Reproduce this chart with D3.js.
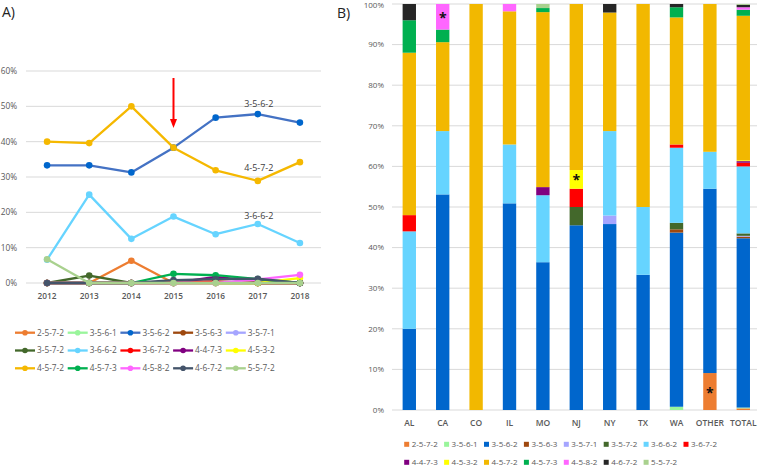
<!DOCTYPE html>
<html><head><meta charset="utf-8">
<script src="https://cdn.jsdelivr.net/npm/d3@7"></script>
<style>
body{margin:0;background:#fff;}
svg{display:block;font-family:"Open Sans","Liberation Sans",sans-serif;}
</style></head>
<body><svg id="c" width="760" height="466"></svg>
<script>
// ---------- DATA ----------
const seriesNames = ["2-5-7-2","3-5-6-1","3-5-6-2","3-5-6-3","3-5-7-1","3-5-7-2","3-6-6-2","3-6-7-2","4-4-7-3","4-5-3-2","4-5-7-2","4-5-7-3","4-5-8-2","4-6-7-2","5-5-7-2"];
const years = ["2012","2013","2014","2015","2016","2017","2018"];
// Panel A: share per year (%)
const s2572 = [0,0,6.3,0,0,0,0];
const s3561 = [0,0,0,0,0,0,0];
const s3562 = [33.3,33.3,31.3,38.3,46.8,47.8,45.4];
const s3563 = [0,0,0,0,0.4,0,0];
const s3571 = [0,0,0,0,0,0,0];
const s3572 = [0,2.1,0,0,0,0,0];
const s3662 = [6.6,25,12.5,18.8,13.8,16.7,11.3];
const s3672 = [0,0,0,0.4,0.4,0,0];
const s4473 = [0,0,0,0,1.7,0.5,0];
const s4532 = [0,0,0,0,0,0,1.4];
const s4572 = [40,39.6,50,38.3,31.9,28.9,34.2];
const s4573 = [0,0,0,2.6,2.2,1.1,0];
const s4582 = [0,0,0,0,0,1.0,2.3];
const s4672 = [0,0,0,0.8,1.1,1.2,0];
const s5572 = [6.7,0,0,0,0,0,0];
const lineValues = [s2572,s3561,s3562,s3563,s3571,s3572,s3662,s3672,s4473,s4532,s4572,s4573,s4582,s4672,s5572];
const yTicksA = [0,10,20,30,40,50,60];

// Panel B: share per state (%), one array per state in series order
const states = ["AL","CA","CO","IL","MO","NJ","NY","TX","WA","OTHER","TOTAL"];
const bAL    = [0,0,20,0,0,0,24,4,0,0,40,8,0,4,0];
const bCA    = [0,0,53.1,0,0,0,15.6,0,0,0,21.9,3.1,6.3,0,0];
const bCO    = [0,0,0,0,0,0,0,0,0,0,100,0,0,0,0];
const bIL    = [0,0,50.9,0,0,0,14.5,0,0,0,32.8,0,1.8,0,0];
const bMO    = [0,0,36.4,0,0,0,16.5,0,2,0,43.1,1,0,0,1];
const bNJ    = [0,0,45.5,0,0,4.5,0,4.5,0,4.6,40.9,0,0,0,0];
const bNY    = [0,0,45.8,0,2.1,0,20.8,0,0,0,29.2,0,0,2.1,0];
const bTX    = [0,0,33.3,0,0,0,16.7,0,0,0,50,0,0,0,0];
const bWA    = [0,0.8,42.9,0.8,0,1.6,18.5,0.8,0,0,31.3,2.5,0,0.8,0];
const bOTHER = [9.1,0,45.4,0,0,0,9.1,0,0,0,36.4,0,0,0,0];
const bTOTAL = [0.4,0.2,41.7,0.4,0.2,0.6,16.5,0.9,0.4,0.2,35.6,1.5,0.6,0.6,0.2];
const barValues = [bAL,bCA,bCO,bIL,bMO,bNJ,bNY,bTX,bWA,bOTHER,bTOTAL];
const yTicksB = [0,10,20,30,40,50,60,70,80,90,100];
const asterisks = [{state:"CA",series:"4-5-8-2"},{state:"NJ",series:"4-5-3-2"},{state:"OTHER",series:"2-5-7-2"}];
const lineLabels = ["3-5-6-2","4-5-7-2","3-6-6-2"];

// ---------- STYLE ----------
const barColor = {"2-5-7-2":"#ED7D31","3-5-6-1":"#99F59B","3-5-6-2":"#0066CC","3-5-6-3":"#9E480E","3-5-7-1":"#A5A5FF","3-5-7-2":"#43682B","3-6-6-2":"#66D4FF","3-6-7-2":"#FF0000","4-4-7-3":"#800080","4-5-3-2":"#FFFF00","4-5-7-2":"#F2B800","4-5-7-3":"#00B050","4-5-8-2":"#FF66FF","4-6-7-2":"#262626","5-5-7-2":"#A9D18E"};
const lineColor = Object.assign({}, barColor, {"3-5-6-2":"#4472C4","4-6-7-2":"#44546A","4-5-7-2":"#F5B800"});
const markColor = Object.assign({}, lineColor, {"3-5-6-2":"#0066CC"});
const labelOffset = {"3-5-6-2":-7,"4-5-7-2":-10,"3-6-6-2":-5};
const textCol = "#595959", gridCol = "#D9D9D9";

const svg = d3.select("#c");

// ---------- PANEL A ----------
const xA = d3.scalePoint().domain(years).range([26,321]).padding(0.5);
const yA = d3.scaleLinear().domain([0,60]).range([283,71]);
const gA = svg.append("g");
gA.selectAll("line.grid").data(yTicksA).join("line")
  .attr("x1",26).attr("x2",321).attr("y1",d=>yA(d)).attr("y2",d=>yA(d))
  .attr("stroke",gridCol).attr("stroke-width",1);
gA.selectAll("text.yt").data(yTicksA).join("text")
  .attr("x",17).attr("y",d=>yA(d)).attr("dy","0.35em").attr("text-anchor","end")
  .attr("font-size",8.3).attr("fill",textCol).text(d=>d+"%");
gA.selectAll("text.xt").data(years).join("text")
  .attr("x",d=>xA(d)).attr("y",299).attr("text-anchor","middle")
  .attr("font-size",8.3).attr("font-weight",600).attr("fill",textCol).text(d=>d);
const line = d3.line().x((d,i)=>xA(years[i])).y(d=>yA(d));
seriesNames.forEach((s,k)=>{
  const g = gA.append("g");
  g.append("path").datum(lineValues[k]).attr("d",line).attr("fill","none")
    .attr("stroke",lineColor[s]).attr("stroke-width",2.3).attr("stroke-linejoin","round");
  g.selectAll("circle").data(lineValues[k]).join("circle")
    .attr("cx",(d,i)=>xA(years[i])).attr("cy",d=>yA(d)).attr("r",3.3).attr("fill",markColor[s]);
});
lineLabels.forEach(s=>{
  const k = seriesNames.indexOf(s);
  gA.append("text").attr("x",xA("2017")+1).attr("y",yA(lineValues[k][5])+labelOffset[s])
    .attr("text-anchor","middle").attr("font-size",9).attr("fill","#404040").text(s);
});
// red arrow at 2015
const ax = xA("2015");
gA.append("line").attr("x1",ax).attr("x2",ax).attr("y1",78).attr("y2",121).attr("stroke","#FF0000").attr("stroke-width",2);
gA.append("path").attr("d",`M${ax-3.5},119 L${ax+3.5},119 L${ax},128 Z`).attr("fill","#FF0000");
svg.append("text").attr("x",2).attr("y",17).attr("font-size",14).attr("fill","#222").text("A)");

// legend A
const legA = svg.append("g");
seriesNames.forEach((s,i)=>{
  const col = i%5, row = Math.floor(i/5);
  const x = 15 + col*52.7, y = 332.7 + row*17.8;
  legA.append("line").attr("x1",x).attr("x2",x+20).attr("y1",y).attr("y2",y).attr("stroke",lineColor[s]).attr("stroke-width",2.3);
  legA.append("circle").attr("cx",x+10).attr("cy",y).attr("r",2.8).attr("fill",markColor[s]);
  legA.append("text").attr("x",x+22).attr("y",y).attr("dy","0.35em").attr("font-size",8.3).attr("fill",textCol).text(s);
});

// ---------- PANEL B ----------
const xB = d3.scaleBand().domain(states).range([392.6,760]).paddingInner(0.6).paddingOuter(0.3);
const yB = d3.scaleLinear().domain([0,100]).range([410,4]);
const gB = svg.append("g");
gB.selectAll("line.grid").data(yTicksB).join("line")
  .attr("x1",392).attr("x2",757).attr("y1",d=>yB(d)).attr("y2",d=>yB(d))
  .attr("stroke",gridCol).attr("stroke-width",1);
gB.selectAll("text.yt").data(yTicksB).join("text")
  .attr("x",384).attr("y",d=>Math.max(yB(d),5.5)).attr("dy","0.35em").attr("text-anchor","end")
  .attr("font-size",8).attr("fill",textCol).text(d=>d+"%");
gB.selectAll("text.xt").data(states).join("text")
  .attr("x",d=>xB(d)+xB.bandwidth()/2).attr("y",423).attr("dy","0.35em").attr("text-anchor","middle")
  .attr("font-size",8.5).attr("font-weight",600).attr("fill",textCol).text(d=>d);
const table = states.map((st,i)=>{const o={state:st}; seriesNames.forEach((s,k)=>o[s]=barValues[i][k]); return o;});
const stacked = d3.stack().keys(seriesNames)(table);
stacked.forEach(layer=>{
  gB.append("g").selectAll("rect").data(layer).join("rect")
    .attr("x",d=>xB(d.data.state)).attr("width",xB.bandwidth())
    .attr("y",d=>yB(d[1])).attr("height",d=>Math.max(0,yB(d[0])-yB(d[1])))
    .attr("fill",barColor[layer.key]);
});
asterisks.forEach(a=>{
  const layer = stacked.find(l=>l.key===a.series);
  const d = layer.find(e=>e.data.state===a.state);
  gB.append("text").attr("x",xB(a.state)+xB.bandwidth()/2).attr("y",(yB(d[0])+yB(d[1]))/2+6)
    .attr("text-anchor","middle").attr("font-size",14).attr("font-weight",700).attr("fill","#111").text("*");
});
svg.append("text").attr("x",337).attr("y",18).attr("font-size",14).attr("fill","#222").text("B)");

// legend B
const legB = svg.append("g");
seriesNames.forEach((s,i)=>{
  const col = i<8 ? i : i-8, row = i<8 ? 0 : 1;
  const x = 406.7 + col*39.9, y = 444.3 + row*18;
  legB.append("rect").attr("x",x-2.5).attr("y",y-2.5).attr("width",5).attr("height",5).attr("fill",barColor[s]);
  legB.append("text").attr("x",x+5).attr("y",y).attr("dy","0.35em").attr("font-size",8).attr("fill",textCol).text(s);
});
</script></body></html>
